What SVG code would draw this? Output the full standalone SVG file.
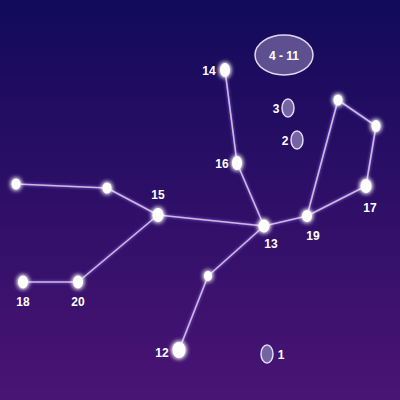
<svg xmlns="http://www.w3.org/2000/svg" width="400" height="400" viewBox="0 0 400 400">
<defs>
<linearGradient id="bg" x1="0" y1="0" x2="0" y2="1">
<stop offset="0" stop-color="#120a5a"/>
<stop offset="1" stop-color="#4a1474"/>
</linearGradient>
<filter id="glow" x="-100%" y="-100%" width="300%" height="300%">
<feGaussianBlur stdDeviation="2.5" result="b"/>
<feMerge><feMergeNode in="b"/><feMergeNode in="b"/><feMergeNode in="SourceGraphic"/></feMerge>
</filter>
<filter id="lglow" x="-10%" y="-10%" width="120%" height="120%">
<feGaussianBlur stdDeviation="1.5" result="b"/>
<feFlood flood-color="#a060ff"/>
<feComposite operator="in" in2="b"/>
<feMerge><feMergeNode/><feMergeNode in="SourceGraphic"/></feMerge>
</filter>
</defs>
<style>
.star{fill:#ffffff;filter:url(#glow)}
.lbl{font-family:"Liberation Sans",Arial,sans-serif;font-weight:bold;font-size:12px;fill:#ffffff;text-anchor:middle}
.grp{fill:#7464a4;stroke:#e0d8f0;stroke-width:1.5}
.big{fill:#5e5090}
.conn line{stroke:#c8bcd8;stroke-width:1.6}
</style>
<rect width="400" height="400" fill="url(#bg)"/>
<g id="connectors" class="conn" filter="url(#lglow)">
<line x1="225" y1="70" x2="237" y2="163"/>
<line x1="237" y1="163" x2="264" y2="226"/>
<line x1="158" y1="215" x2="264" y2="226"/>
<line x1="264" y1="226" x2="307" y2="216"/>
<line x1="307" y1="216" x2="366" y2="186"/>
<line x1="366" y1="186" x2="376" y2="126"/>
<line x1="376" y1="126" x2="338" y2="100"/>
<line x1="338" y1="100" x2="307" y2="216"/>
<line x1="264" y1="226" x2="208" y2="276"/>
<line x1="208" y1="276" x2="179" y2="350"/>
<line x1="158" y1="215" x2="107" y2="188"/>
<line x1="107" y1="188" x2="16" y2="184"/>
<line x1="158" y1="215" x2="78" y2="282"/>
<line x1="78" y1="282" x2="23" y2="282"/>
</g>
<g id="n14"><ellipse class="star" cx="225" cy="70" rx="5" ry="7"/><text class="lbl" x="209" y="75">14</text></g>
<g id="n16"><ellipse class="star" cx="237" cy="163" rx="5" ry="7"/><text class="lbl" x="222" y="168">16</text></g>
<g id="n13"><ellipse class="star" cx="264" cy="226" rx="5.5" ry="6.5"/><text class="lbl" x="271" y="248">13</text></g>
<g id="n19"><ellipse class="star" cx="307" cy="216" rx="5" ry="6"/><text class="lbl" x="313" y="240">19</text></g>
<g id="n17"><ellipse class="star" cx="366" cy="186" rx="5.5" ry="7"/><text class="lbl" x="370" y="212">17</text></g>
<g id="sA"><ellipse class="star" cx="338" cy="100" rx="4.5" ry="5.5"/></g>
<g id="sB"><ellipse class="star" cx="376" cy="126" rx="4.5" ry="6"/></g>
<g id="n15"><ellipse class="star" cx="158" cy="215" rx="5.5" ry="7"/><text class="lbl" x="158" y="199">15</text></g>
<g id="sC"><ellipse class="star" cx="107" cy="188" rx="4.5" ry="5.5"/></g>
<g id="sD"><ellipse class="star" cx="16" cy="184" rx="4.5" ry="5.5"/></g>
<g id="n18"><ellipse class="star" cx="23" cy="282" rx="5" ry="6.5"/><text class="lbl" x="23" y="306">18</text></g>
<g id="n20"><ellipse class="star" cx="78" cy="282" rx="5" ry="6.5"/><text class="lbl" x="78" y="306">20</text></g>
<g id="sE"><ellipse class="star" cx="208" cy="276" rx="4" ry="5"/></g>
<g id="n12"><ellipse class="star" cx="179" cy="350" rx="6.5" ry="8"/><text class="lbl" x="162" y="357">12</text></g>
<g id="n1"><ellipse class="grp" cx="267" cy="354" rx="6" ry="9"/><text class="lbl" x="281" y="359">1</text></g>
<g id="n3"><ellipse class="grp" cx="288" cy="108" rx="6" ry="9"/><text class="lbl" x="276" y="113">3</text></g>
<g id="n2"><ellipse class="grp" cx="297" cy="140" rx="6" ry="9"/><text class="lbl" x="285" y="145">2</text></g>
<g id="n4-11"><ellipse class="grp big" cx="284" cy="55" rx="29" ry="20"/><text class="lbl" x="284" y="60">4 - 11</text></g>
</svg>
